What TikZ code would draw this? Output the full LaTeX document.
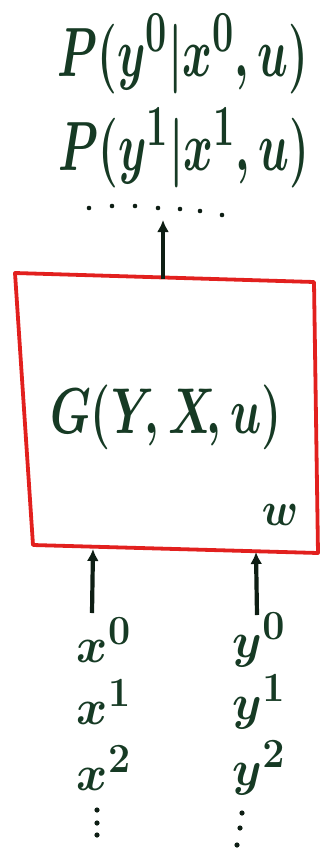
\documentclass[tikz,border=0pt]{standalone}
\usetikzlibrary{arrows.meta}
\definecolor{ink}{RGB}{22,58,36}
\definecolor{arrowink}{RGB}{14,30,20}
\definecolor{boxred}{RGB}{226,32,30}
\newcommand{\bigtxt}[3]{\scalebox{#1}[#2]{\fontsize{24.88}{30}\selectfont\boldmath #3}}
\tikzset{
  lbl/.style={text=ink, inner sep=0pt},
  boxline/.style={draw=boxred, line width=3.8pt, line join=round},
  arr/.style={draw=arrowink, line width=4.2pt, -{Latex[length=12pt,width=12pt]}},
  dotmark/.style={fill=arrowink, draw=none},
}
\begin{document}
\begin{tikzpicture}[x=1pt,y=-1pt]
\useasboundingbox (0,0) rectangle (326,852);
% top labels
\node[lbl] (p0) at (183,54) {\bigtxt{1.82}{2.8}{$P(y^0|x^0,u)$}};
\node[lbl] (p1) at (184,148) {\bigtxt{1.82}{2.8}{$P(y^1|x^1,u)$}};
\foreach \xx/\yy in {89/208,112/206,135/206,158/208,180/209,200/211,222/215}
  \fill[dotmark] (\xx,\yy) circle (2.3pt);
% box
\coordinate (tl) at (15,273);
\coordinate (tr) at (314,282);
\coordinate (br) at (318,553);
\coordinate (bl) at (33,545);
\draw[boxline] (tl) -- (tr) -- (br) -- (bl) -- cycle;
\node[lbl] (g) at (166,417) {\bigtxt{1.85}{2.6}{$G(Y\!,X\!,u)$}};
\node[lbl] (w) at (280,515) {\bigtxt{1.7}{1.9}{$w$}};
% top arrow
\coordinate (bt) at (163,279);
\coordinate (up) at (163,220);
\draw[arr] (bt) -- (up);
% bottom columns
\node[lbl] (x0) at (104,640) {\bigtxt{1.9}{2}{$x^0$}};
\node[lbl] (x1) at (104,702) {\bigtxt{1.9}{2}{$x^1$}};
\node[lbl] (x2) at (104,768) {\bigtxt{1.9}{2}{$x^2$}};
\node[lbl] (y0) at (259,640) {\bigtxt{1.9}{2}{$y^0$}};
\node[lbl] (y1) at (259,702) {\bigtxt{1.9}{2}{$y^1$}};
\node[lbl] (y2) at (259,768) {\bigtxt{1.9}{2}{$y^2$}};
\foreach \xx/\yy in {97/810,97/823,97/835,242/813,240/828,237/845}
  \fill[dotmark] (\xx,\yy) circle (2.6pt);
\coordinate (xin) at (93,549);
\coordinate (yin) at (256,552);
\coordinate (xs) at (92,613);
\coordinate (ys) at (257,615);
\draw[arr] (xs) -- (xin);
\draw[arr] (ys) -- (yin);
\end{tikzpicture}
\end{document}
